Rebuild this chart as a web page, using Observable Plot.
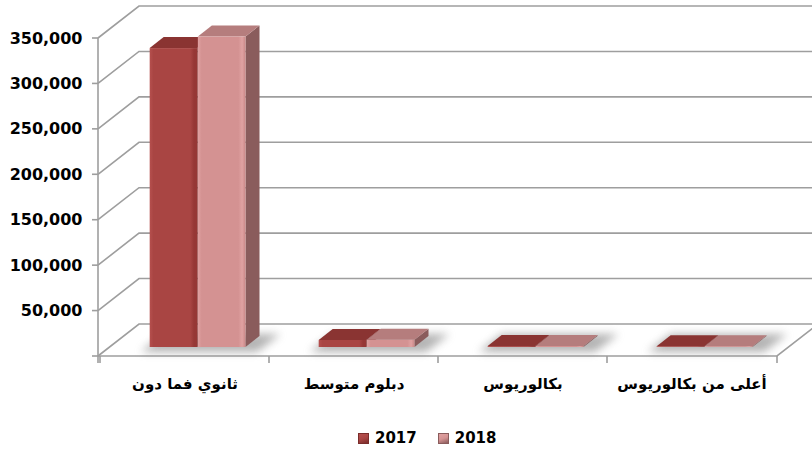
<!DOCTYPE html>
<html><head><meta charset="utf-8">
<script src="https://cdn.jsdelivr.net/npm/d3@7"></script>
<script src="https://cdn.jsdelivr.net/npm/@observablehq/plot@0.6"></script>
<style>
body{margin:0;background:#fff;}
#chart{position:relative;width:812px;height:451px;overflow:hidden;font-family:"DejaVu Sans",sans-serif;font-weight:bold;}
#chart svg{position:absolute;left:0;top:0;}
#chart svg [aria-label^="x-axis"] text{font-size:15px;}
#legend{position:absolute;left:358px;top:429px;display:flex;align-items:center;font-size:15px;font-weight:bold;color:#000;}
#legend .sw{display:inline-block;width:11px;height:11px;box-sizing:border-box;margin-right:6px;}
#legend .lab{margin-right:21px;}
</style></head><body><div id="chart"></div><script>
const categories = ["ثانوي فما دون", "دبلوم متوسط", "بكالوريوس", "أعلى من بكالوريوس"];
const years = ["2017", "2018"];
const values2017 = [329000, 7700, 1000, 800];
const values2018 = [341700, 8000, 1100, 900];
const yTicks = [0, 50000, 100000, 150000, 200000, 250000, 300000, 350000];
const seriesValues = [values2017, values2018];
const colors = {
  "2017": {front: "#a94543", light: "#b5504e", dark: "#963735", top: "#8a3432", side: "#7a2d2b"},
  "2018": {front: "#d49292", light: "#e0a2a2", dark: "#c98787", top: "#b57d7d", side: "#8a5c5c"}
};

const DX = 41, DY = 32;          // floor/wall depth
const BDX = 14, BDY = 11;        // bar depth
const B0X = 11, B0Y = 9;         // bar front plane offset

function walls(index, scales, values, dims) {
  const x = scales.x, y = scales.y;
  const g = d3.create("svg:g");
  const x0 = dims.marginLeft, x1 = dims.width - dims.marginRight, W = dims.width;
  const y0 = y(0), yTop = y(yTicks[yTicks.length - 1]);
  const line = (d, w = 1.6, c = "#9e9e9e") => g.append("path").attr("d", d).attr("fill", "none").attr("stroke", c).attr("stroke-width", w);
  for (const t of yTicks) {
    const yy = y(t);
    line(`M${x0},${yy}L${x0 + DX},${yy - DY}L${W},${yy - DY}`);
    line(`M${x0 - 6},${yy}H${x0}`);
  }
  line(`M${x0},${y0}L${x1},${y0}L${x1 + DX},${y0 - DY}`);
  line(`M${x0},${yTop}V${y0 + 7}`);
  for (const c of categories) {
    const xx = x(c);
    line(`M${xx},${y0}V${y0 + 7}`);
  }
  line(`M${x1},${y0}V${y0 + 7}`);
  return g.node();
}

function bars(index, scales, values, dims) {
  const x = scales.x, y = scales.y;
  const bw = x.bandwidth ? x.bandwidth() : (dims.width - dims.marginLeft - dims.marginRight) / categories.length;
  const g = d3.create("svg:g");
  const defs = g.append("defs");
  defs.append("filter").attr("id", "blur").attr("x", "-30%").attr("y", "-100%").attr("width", "160%").attr("height", "300%")
    .append("feGaussianBlur").attr("stdDeviation", 4);
  for (const yr of years) {
    const c = colors[yr];
    const gr = defs.append("linearGradient").attr("id", "fg" + yr).attr("x1", 0).attr("x2", 1).attr("y1", 0).attr("y2", 0);
    gr.append("stop").attr("offset", 0).attr("stop-color", c.light);
    gr.append("stop").attr("offset", 0.08).attr("stop-color", c.front);
    gr.append("stop").attr("offset", 0.85).attr("stop-color", c.front);
    gr.append("stop").attr("offset", 0.93).attr("stop-color", yr === "2018" ? c.light : c.dark);
    gr.append("stop").attr("offset", 1).attr("stop-color", c.dark);
  }
  const y0 = y(0);
  const fw = bw * 0.282;
  categories.forEach((cat, i) => {
    const gx = x(cat) + bw * 0.294;
    // shadow on floor
    const sx1 = gx - 14, sx2 = gx + 2 * bw * 0.285 + 6;
    const sf = -4, sb = -22;
    g.append("path")
      .attr("d", `M${sx1 - sf * DX / DY},${y0 + sf}L${sx2 - sf * DX / DY},${y0 + sf}L${sx2 - sb * DX / DY},${y0 + sb}L${sx1 - sb * DX / DY},${y0 + sb}Z`)
      .attr("fill", "#777").attr("opacity", 0.55).attr("filter", "url(#blur)");
    years.forEach((yr, j) => {
      const v = seriesValues[j][i];
      const c = colors[yr];
      const fx1 = gx + j * bw * 0.285, fx2 = fx1 + fw;
      const fyb = y0 - B0Y, fyt = y(v) - B0Y;
      g.append("path").attr("d", `M${fx2},${fyt}L${fx2 + BDX},${fyt - BDY}L${fx2 + BDX},${fyb - BDY}L${fx2},${fyb}Z`).attr("fill", c.side);
      g.append("path").attr("d", `M${fx1},${fyt}L${fx2},${fyt}L${fx2 + BDX},${fyt - BDY}L${fx1 + BDX},${fyt - BDY}Z`).attr("fill", c.top);
      g.append("rect").attr("x", fx1).attr("y", fyt).attr("width", fw).attr("height", Math.max(0.5, fyb - fyt)).attr("fill", `url(#fg${yr})`);
    });
  });
  return g.node();
}

const chart = Plot.plot({
  width: 812,
  height: 410,
  marginLeft: 98,
  marginRight: 35,
  marginTop: 38,
  marginBottom: 54,
  style: {fontFamily: "DejaVu Sans, sans-serif", fontSize: "16px", fontWeight: "bold", color: "#000", background: "transparent", overflow: "visible"},
  x: {type: "band", domain: categories, padding: 0, tickSize: 0, tickPadding: 22, label: null},
  y: {domain: [0, 350000], ticks: yTicks, tickFormat: d => d === 0 ? "" : d3.format(",")(d), tickSize: 0, tickPadding: 16, label: null},
  marks: [walls, bars]
});
const root = document.getElementById("chart");
root.appendChild(chart);

const legend = d3.select(root).append("div").attr("id", "legend");
for (const yr of years) {
  const c = colors[yr];
  legend.append("span").attr("class", "sw")
    .style("background", `linear-gradient(160deg, ${c.light}, ${c.front} 50%, ${c.side})`)
    .style("border", `1px solid ${c.side}`);
  legend.append("span").attr("class", "lab").text(yr);
}
</script></body></html>
